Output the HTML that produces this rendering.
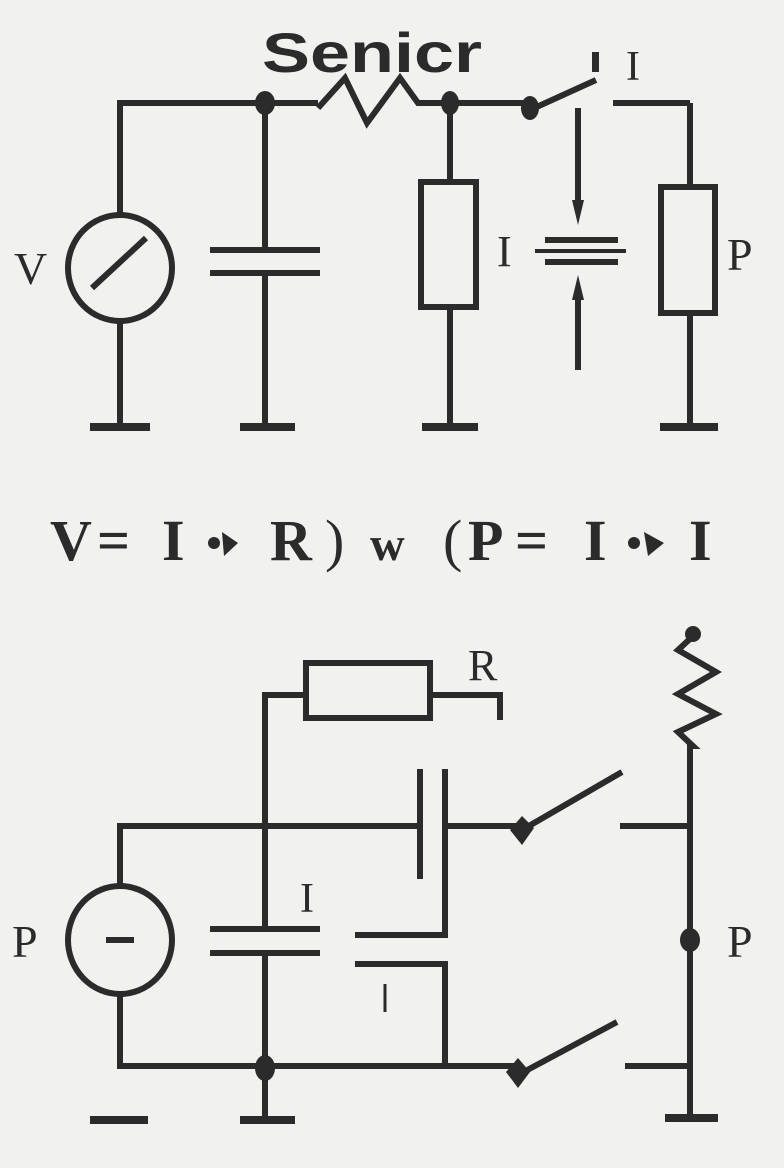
<!DOCTYPE html>
<html><head><meta charset="utf-8"><style>
html,body{margin:0;padding:0;background:#f1f1ef;}
svg{display:block}
</style></head><body>
<svg width="784" height="1168" viewBox="0 0 784 1168" xmlns="http://www.w3.org/2000/svg">
<rect width="784" height="1168" fill="#f1f1ef"/>
<g stroke="#2b2b2b" stroke-width="6" fill="none" stroke-linecap="butt" stroke-linejoin="miter">
<polyline points="120,215 120,103 318,103"/>
<polyline points="318,108 345,78 367,123 400,78 418,103 528,103"/>
<line x1="120" y1="322" x2="120" y2="427"/>
<ellipse cx="120" cy="268" rx="52" ry="53"/>
<line x1="92" y1="288" x2="146" y2="238"/>
<line x1="265" y1="103" x2="265" y2="250"/>
<line x1="210" y1="250" x2="320" y2="250"/>
<line x1="210" y1="273" x2="320" y2="273"/>
<line x1="265" y1="273" x2="265" y2="427"/>
<line x1="450" y1="103" x2="450" y2="182"/>
<rect x="421" y="182" width="55" height="125"/>
<line x1="450" y1="307" x2="450" y2="427"/>
<line x1="530" y1="110" x2="596" y2="80"/>
<line x1="613" y1="103" x2="690" y2="103"/>
<line x1="690" y1="103" x2="690" y2="187"/>
<rect x="661" y="187" width="54" height="126"/>
<line x1="690" y1="313" x2="690" y2="427"/>
<line x1="578" y1="108" x2="578" y2="200"/>
<line x1="578" y1="300" x2="578" y2="370"/>
<line x1="545" y1="240" x2="618" y2="240"/>
<line x1="535" y1="251" x2="626" y2="251" stroke-width="4"/>
<line x1="545" y1="262" x2="618" y2="262"/>
<line x1="90" y1="427" x2="150" y2="427" stroke-width="8"/>
<line x1="240" y1="427" x2="295" y2="427" stroke-width="8"/>
<line x1="422" y1="427" x2="478" y2="427" stroke-width="8"/>
<line x1="660" y1="427" x2="718" y2="427" stroke-width="8"/>
<polyline points="265,929 265,695 305,695"/>
<rect x="306" y="663" width="124" height="55"/>
<polyline points="430,695 500,695 500,720"/>
<polyline points="693,636 678,650 716,672 678,694 716,714 678,732 693,746 690,746 690,1117"/>
<polyline points="120,886 120,826 420,826"/>
<line x1="420" y1="769" x2="420" y2="879"/>
<polyline points="445,769 445,935 355,935"/>
<polyline points="355,964 445,964 445,1066"/>
<line x1="445" y1="826" x2="520" y2="826"/>
<line x1="385" y1="984" x2="385" y2="1012" stroke-width="3"/>
<ellipse cx="120" cy="940" rx="52" ry="54"/>
<line x1="106" y1="940" x2="134" y2="940"/>
<polyline points="120,994 120,1066 515,1066"/>
<line x1="210" y1="929" x2="320" y2="929"/>
<line x1="210" y1="953" x2="320" y2="953"/>
<line x1="265" y1="953" x2="265" y2="1118"/>
<line x1="522" y1="830" x2="622" y2="772"/>
<line x1="620" y1="826" x2="690" y2="826"/>
<line x1="518" y1="1075" x2="617" y2="1022"/>
<line x1="625" y1="1066" x2="690" y2="1066"/>
<line x1="90" y1="1120" x2="148" y2="1120" stroke-width="8"/>
<line x1="240" y1="1120" x2="295" y2="1120" stroke-width="8"/>
<line x1="665" y1="1118" x2="718" y2="1118" stroke-width="8"/>
</g>
<g fill="#2b2b2b">
<ellipse cx="265" cy="103" rx="10" ry="12"/>
<ellipse cx="450" cy="103" rx="9" ry="12"/>
<ellipse cx="530" cy="108" rx="9" ry="12"/>
<rect x="592" y="52" width="7" height="20"/>
<polygon points="572,200 584,200 578,225"/>
<polygon points="572,300 584,300 578,275"/>
<ellipse cx="693" cy="634" rx="8" ry="8"/>
<ellipse cx="690" cy="940" rx="10" ry="12"/>
<ellipse cx="265" cy="1068" rx="10" ry="13"/>
<polygon points="510,830 522,816 534,828 522,845"/>
<polygon points="506,1072 518,1058 530,1072 518,1088"/>
</g>
<g font-family="Liberation Serif, serif" fill="#2b2b2b">
<text x="372" y="72" font-family="Liberation Sans, sans-serif" font-weight="bold" font-size="56" text-anchor="middle" textLength="220" lengthAdjust="spacingAndGlyphs">Senicr</text>
<text x="14" y="284" font-size="46">V</text>
<text x="626" y="80" font-size="42">I</text>
<text x="497" y="266" font-size="44">I</text>
<text x="727" y="270" font-size="46">P</text>
<text x="468" y="680" font-size="44">R</text>
<text x="300" y="912" font-size="42">I</text>
<text x="12" y="957" font-size="46">P</text>
<text x="727" y="957" font-size="46">P</text>
<g font-size="58" font-weight="bold">
<text x="50" y="560">V</text>
<text x="97" y="560">=</text>
<text x="162" y="560">I</text>
<text x="270" y="560">R</text>
<text x="325" y="560" font-weight="normal">)</text>
<text x="370" y="560" font-size="48">w</text>
<text x="443" y="560" font-weight="normal">(</text>
<text x="468" y="560">P</text>
<text x="515" y="560">=</text>
<text x="584" y="560">I</text>
<text x="689" y="560">I</text>
</g>
<circle cx="214" cy="543" r="6"/><polygon points="222,532 238,543 224,556"/>
<circle cx="634" cy="543" r="6"/><polygon points="644,532 664,543 648,556"/>
</g>
</svg>
</body></html>
